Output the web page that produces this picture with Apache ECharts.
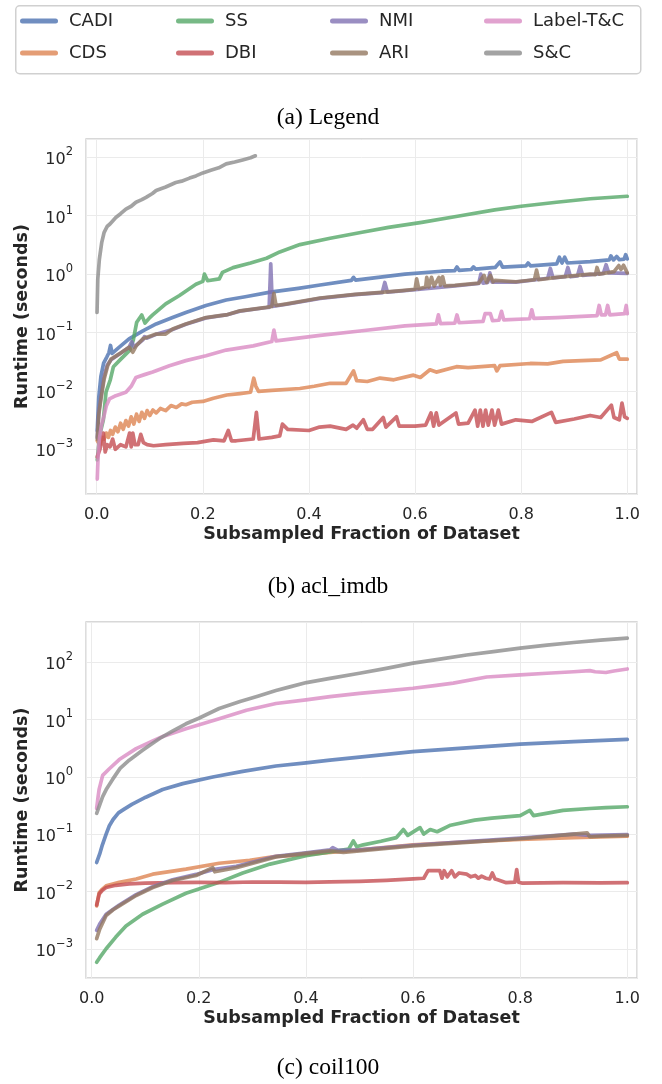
<!DOCTYPE html>
<html><head><meta charset="utf-8">
<script src="https://cdn.jsdelivr.net/npm/echarts@6/dist/echarts.min.js"></script>
<style>html,body{margin:0;padding:0;background:#fff}#c{width:662px;height:1084px}</style>
</head><body><div id="c"></div>
<script>
// ---------------- data ----------------
const names = ['CADI','CDS','SS','DBI','NMI','ARI','Label-T&C','S&C'];
const colors = ['#4C72B0','#DD8452','#55A868','#C44E52','#8172B3','#937860','#DA8BC3','#8C8C8C'];
const xTicks = [0.0, 0.2, 0.4, 0.6, 0.8, 1.0];
const yTickExps = [-3, -2, -1, 0, 1, 2];

// (b) acl_imdb  — [fraction, seconds]
const aclCADI = [[0.001,0.0021],[0.004,0.008],[0.008,0.018],[0.013,0.03],[0.019,0.038],[0.023,0.045],[0.026,0.06],[0.029,0.044],[0.0426,0.056],[0.061,0.078],[0.087,0.107],[0.112,0.14],[0.143,0.18],[0.168,0.22],[0.206,0.29],[0.244,0.36],[0.28,0.41],[0.327,0.49],[0.38,0.57],[0.421,0.65],[0.48,0.78],[0.484,0.88],[0.488,0.79],[0.581,1.0],[0.65,1.12],[0.675,1.15],[0.679,1.32],[0.683,1.16],[0.706,1.2],[0.71,1.33],[0.714,1.22],[0.751,1.3],[0.76,1.62],[0.765,1.32],[0.809,1.38],[0.813,1.55],[0.818,1.38],[0.867,1.5],[0.872,1.95],[0.877,1.55],[0.882,1.95],[0.887,1.55],[0.93,1.63],[0.966,1.75],[0.969,2.05],[0.974,1.75],[0.98,2.0],[0.985,1.76],[0.994,1.8],[0.997,2.15],[1.0,1.82]];
const aclCDS = [[0.001,0.0014],[0.006,0.0012],[0.01,0.0016],[0.014,0.0015],[0.018,0.0019],[0.022,0.0016],[0.026,0.0021],[0.03,0.0018],[0.035,0.0024],[0.04,0.002],[0.045,0.0028],[0.05,0.0022],[0.055,0.0031],[0.06,0.0025],[0.065,0.0036],[0.07,0.0027],[0.075,0.004],[0.08,0.003],[0.085,0.0043],[0.09,0.0034],[0.095,0.0046],[0.1,0.0038],[0.106,0.0047],[0.112,0.0042],[0.12,0.005],[0.13,0.0046],[0.14,0.0056],[0.15,0.0052],[0.16,0.006],[0.168,0.0058],[0.18,0.0064],[0.2,0.0066],[0.22,0.0075],[0.245,0.0085],[0.27,0.009],[0.29,0.0095],[0.296,0.0165],[0.3,0.012],[0.305,0.0098],[0.33,0.0102],[0.383,0.011],[0.41,0.012],[0.44,0.0135],[0.47,0.0135],[0.484,0.022],[0.49,0.015],[0.51,0.0145],[0.534,0.0166],[0.56,0.0155],[0.597,0.0186],[0.61,0.017],[0.628,0.023],[0.64,0.021],[0.678,0.026],[0.7,0.025],[0.75,0.027],[0.754,0.022],[0.76,0.027],[0.817,0.0295],[0.85,0.029],[0.879,0.032],[0.95,0.034],[0.98,0.045],[0.985,0.035],[1.0,0.035]];
const aclSS = [[0.001,0.00066],[0.006,0.0018],[0.0125,0.0032],[0.0175,0.0095],[0.0256,0.0155],[0.0315,0.026],[0.044,0.034],[0.0625,0.05],[0.0689,0.074],[0.0754,0.15],[0.0848,0.2],[0.088,0.21],[0.091,0.145],[0.1,0.18],[0.1055,0.2],[0.13,0.31],[0.156,0.43],[0.187,0.67],[0.2,0.75],[0.203,1.0],[0.209,0.77],[0.231,0.83],[0.237,1.07],[0.257,1.29],[0.29,1.55],[0.32,1.87],[0.345,2.4],[0.383,3.2],[0.44,4.1],[0.5,5.2],[0.55,6.3],[0.6125,7.7],[0.68,9.8],[0.75,12.6],[0.8,14.5],[0.8665,17],[0.93,19.5],[1.0,21.5]];
const aclDBI = [[0.001,0.00074],[0.006,0.001],[0.0125,0.0019],[0.016,0.0009],[0.02,0.0012],[0.025,0.0011],[0.03,0.0015],[0.035,0.001],[0.045,0.0012],[0.055,0.0011],[0.062,0.0019],[0.065,0.0011],[0.068,0.0019],[0.072,0.0012],[0.078,0.0012],[0.083,0.0018],[0.088,0.0013],[0.095,0.0012],[0.107,0.00115],[0.13,0.0012],[0.163,0.00126],[0.19,0.0013],[0.22,0.00145],[0.24,0.0014],[0.248,0.0021],[0.254,0.0014],[0.263,0.0014],[0.295,0.0015],[0.301,0.0043],[0.306,0.0015],[0.33,0.0016],[0.345,0.0017],[0.35,0.0027],[0.36,0.0022],[0.4,0.0021],[0.42,0.0024],[0.44,0.0025],[0.47,0.0022],[0.483,0.0026],[0.49,0.0023],[0.5025,0.0032],[0.51,0.0022],[0.52,0.0022],[0.54,0.0035],[0.545,0.0024],[0.565,0.0036],[0.57,0.0025],[0.6,0.0025],[0.62,0.0026],[0.63,0.0042],[0.635,0.0025],[0.64,0.0042],[0.645,0.0026],[0.677,0.0042],[0.682,0.0027],[0.7,0.0028],[0.713,0.0047],[0.718,0.0025],[0.723,0.0047],[0.728,0.0025],[0.733,0.0047],[0.738,0.0026],[0.745,0.0047],[0.75,0.0026],[0.757,0.0047],[0.763,0.0027],[0.79,0.0032],[0.82,0.003],[0.857,0.0043],[0.865,0.0029],[0.9,0.0033],[0.93,0.0038],[0.95,0.0035],[0.97,0.0057],[0.975,0.0035],[0.985,0.0032],[0.99,0.0062],[0.995,0.0036],[1.0,0.0034]];
const aclNMI = [[0.001,0.0016],[0.004,0.0045],[0.008,0.008],[0.014,0.018],[0.02,0.028],[0.027,0.034],[0.0426,0.043],[0.061,0.056],[0.066,0.07],[0.07,0.056],[0.087,0.075],[0.09,0.085],[0.095,0.08],[0.112,0.093],[0.143,0.113],[0.168,0.138],[0.206,0.178],[0.244,0.2],[0.27,0.232],[0.32,0.268],[0.325,0.27],[0.328,1.5],[0.331,0.28],[0.358,0.305],[0.421,0.385],[0.487,0.445],[0.538,0.48],[0.543,0.72],[0.548,0.49],[0.6,0.54],[0.675,0.63],[0.72,0.69],[0.724,1.0],[0.728,0.7],[0.737,0.72],[0.741,1.05],[0.745,0.73],[0.79,0.73],[0.85,0.85],[0.855,1.25],[0.86,0.86],[0.883,0.9],[0.888,1.3],[0.893,0.9],[0.906,0.93],[0.911,1.35],[0.916,0.95],[0.955,1.03],[0.96,1.45],[0.965,1.05],[1.0,1.03]];
const aclARI = [[0.001,0.0015],[0.004,0.004],[0.008,0.0073],[0.014,0.016],[0.0207,0.027],[0.027,0.035],[0.0426,0.043],[0.061,0.056],[0.068,0.046],[0.075,0.06],[0.087,0.078],[0.112,0.094],[0.13,0.094],[0.143,0.115],[0.168,0.14],[0.206,0.18],[0.232,0.195],[0.244,0.2],[0.27,0.235],[0.32,0.27],[0.33,0.28],[0.334,0.47],[0.338,0.29],[0.358,0.31],[0.421,0.39],[0.487,0.45],[0.53,0.48],[0.575,0.52],[0.6,0.55],[0.603,0.83],[0.607,0.56],[0.62,0.6],[0.622,0.88],[0.626,0.6],[0.631,0.88],[0.636,0.62],[0.645,0.88],[0.648,0.65],[0.652,0.9],[0.656,0.63],[0.675,0.64],[0.72,0.7],[0.73,0.95],[0.735,0.72],[0.742,0.95],[0.747,0.74],[0.751,0.78],[0.79,0.74],[0.825,0.8],[0.829,1.17],[0.833,0.8],[0.867,0.88],[0.93,1.0],[0.94,0.98],[0.943,1.3],[0.947,1.0],[0.975,1.1],[0.984,1.4],[0.988,1.2],[0.993,1.42],[1.0,1.05]];
const aclLTC = [[0.001,0.00031],[0.003,0.0009],[0.005,0.0015],[0.009,0.0026],[0.014,0.0038],[0.018,0.0055],[0.024,0.0073],[0.036,0.0083],[0.055,0.0095],[0.065,0.012],[0.074,0.017],[0.09,0.019],[0.1055,0.021],[0.137,0.027],[0.168,0.033],[0.206,0.04],[0.244,0.05],[0.295,0.059],[0.33,0.07],[0.334,0.11],[0.338,0.072],[0.421,0.089],[0.496,0.106],[0.581,0.13],[0.64,0.14],[0.644,0.2],[0.648,0.142],[0.675,0.145],[0.679,0.2],[0.683,0.147],[0.728,0.155],[0.732,0.21],[0.742,0.21],[0.746,0.16],[0.758,0.162],[0.763,0.23],[0.767,0.165],[0.816,0.172],[0.82,0.245],[0.824,0.174],[0.867,0.18],[0.943,0.195],[0.947,0.29],[0.951,0.2],[0.959,0.2],[0.963,0.29],[0.967,0.2],[0.995,0.21],[0.998,0.29],[1.0,0.21]];
const aclSC = [[0.0006,0.22],[0.002,0.82],[0.005,1.8],[0.0095,3.5],[0.014,5.2],[0.02,6.6],[0.025,7.2],[0.036,9.3],[0.045,10.8],[0.055,13],[0.065,14.5],[0.074,17],[0.085,18.8],[0.093,20.6],[0.105,24],[0.112,27],[0.13,31],[0.149,37],[0.16,39],[0.175,44],[0.187,48],[0.2,54],[0.215,60],[0.23,66],[0.244,77],[0.26,83],[0.275,90],[0.29,98],[0.299,106]];

// (c) coil100 — [fraction, seconds]
const coilCADI = [[0.0093,0.032],[0.015,0.045],[0.02,0.065],[0.027,0.1],[0.033,0.14],[0.04,0.18],[0.05,0.235],[0.06,0.27],[0.075,0.33],[0.101,0.44],[0.1325,0.6],[0.17,0.76],[0.226,0.99],[0.282,1.24],[0.344,1.54],[0.4,1.75],[0.445,1.95],[0.5,2.2],[0.6,2.75],[0.7,3.2],[0.8,3.7],[0.9,4.1],[1.0,4.5]];
const coilCDS = [[0.0093,0.0056],[0.014,0.0095],[0.02,0.011],[0.027,0.0125],[0.0515,0.0144],[0.083,0.0165],[0.114,0.02],[0.176,0.0245],[0.238,0.031],[0.295,0.035],[0.344,0.0408],[0.4,0.044],[0.445,0.048],[0.5,0.053],[0.6,0.065],[0.7,0.073],[0.8,0.081],[0.9,0.087],[1.0,0.092]];
const coilSS = [[0.0093,0.00058],[0.015,0.0007],[0.027,0.001],[0.045,0.0016],[0.064,0.0025],[0.095,0.004],[0.1325,0.006],[0.176,0.0093],[0.238,0.0144],[0.282,0.021],[0.333,0.03],[0.4,0.042],[0.445,0.049],[0.48,0.055],[0.4885,0.076],[0.495,0.06],[0.507,0.065],[0.54,0.075],[0.569,0.087],[0.582,0.12],[0.59,0.095],[0.613,0.13],[0.62,0.1],[0.632,0.12],[0.645,0.11],[0.67,0.143],[0.715,0.175],[0.747,0.19],[0.8,0.21],[0.818,0.26],[0.825,0.21],[0.88,0.26],[0.93,0.28],[0.96,0.29],[1.0,0.3]];
const coilDBI = [[0.0093,0.0058],[0.014,0.009],[0.02,0.0105],[0.027,0.0117],[0.045,0.0128],[0.07,0.0135],[0.1,0.014],[0.15,0.0143],[0.2,0.0144],[0.25,0.0143],[0.3,0.0146],[0.35,0.0145],[0.4,0.0144],[0.445,0.0147],[0.5,0.015],[0.55,0.0156],[0.6,0.0166],[0.62,0.017],[0.628,0.023],[0.64,0.023],[0.65,0.023],[0.654,0.017],[0.658,0.023],[0.664,0.018],[0.672,0.023],[0.678,0.018],[0.686,0.021],[0.7,0.02],[0.708,0.018],[0.716,0.019],[0.722,0.017],[0.728,0.0185],[0.736,0.017],[0.743,0.0165],[0.748,0.021],[0.753,0.0165],[0.758,0.016],[0.774,0.0142],[0.79,0.0145],[0.7935,0.024],[0.797,0.0145],[0.803,0.014],[0.88,0.0142],[0.95,0.0141],[1.0,0.0142]];
const coilNMI = [[0.0093,0.0021],[0.015,0.0027],[0.027,0.004],[0.0515,0.0058],[0.083,0.0088],[0.114,0.0121],[0.151,0.016],[0.195,0.0198],[0.226,0.024],[0.27,0.0275],[0.344,0.041],[0.4,0.047],[0.445,0.053],[0.45,0.058],[0.46,0.052],[0.5,0.053],[0.6,0.064],[0.7,0.074],[0.8,0.085],[0.9,0.1],[0.93,0.095],[1.0,0.098]];
const coilARI = [[0.0093,0.0015],[0.015,0.0022],[0.027,0.0038],[0.04,0.0048],[0.0515,0.0056],[0.083,0.0085],[0.114,0.0117],[0.151,0.0155],[0.195,0.019],[0.226,0.026],[0.23,0.022],[0.27,0.026],[0.344,0.04],[0.4,0.046],[0.445,0.051],[0.47,0.048],[0.5,0.051],[0.6,0.062],[0.7,0.072],[0.8,0.083],[0.9,0.1],[0.925,0.105],[0.93,0.09],[0.95,0.092],[1.0,0.095]];
const coilLTC = [[0.0093,0.28],[0.012,0.45],[0.014,0.61],[0.0205,1.06],[0.033,1.38],[0.0515,2.0],[0.083,3.1],[0.114,4.2],[0.134,5.1],[0.176,6.9],[0.238,10.3],[0.289,14.5],[0.344,19],[0.4,22],[0.445,25],[0.5,28.5],[0.55,31.5],[0.6,35],[0.64,39],[0.675,43],[0.7375,55],[0.8,60],[0.85,64],[0.9,68],[0.93,71],[0.94,68],[0.96,66],[0.975,70],[1.0,76]];
const coilSC = [[0.0093,0.23],[0.0205,0.45],[0.028,0.62],[0.039,0.9],[0.053,1.4],[0.07,1.95],[0.095,2.9],[0.1275,4.7],[0.15,6.2],[0.176,8.4],[0.2,10.5],[0.238,15.5],[0.277,20.5],[0.31,25.5],[0.344,32],[0.37,37],[0.401,44],[0.445,52],[0.5,64],[0.55,78],[0.6,96],[0.65,113],[0.7,133],[0.75,153],[0.8,176],[0.85,198],[0.9,220],[0.95,242],[1.0,263]];

const aclData = [aclCADI, aclCDS, aclSS, aclDBI, aclNMI, aclARI, aclLTC, aclSC];
const coilData = [coilCADI, coilCDS, coilSS, coilDBI, coilNMI, coilARI, coilLTC, coilSC];

// ---------------- chart ----------------
const TXT = '#262626';
const FONT = 'DejaVu Sans';
function logLabel(v){
  const e = Math.log10(v), r = Math.round(e);
  if (Math.abs(e - r) > 0.01 || yTickExps.indexOf(r) < 0) return '';
  return '{b|10}{s|' + (r < 0 ? '\u2212' + (-r) : r) + '}';
}
function xLabel(v){
  for (const t of xTicks) if (Math.abs(v - t) < 1e-6) return t.toFixed(1);
  return '';
}
const grids = [
  {left: 86, top: 139, width: 551, height: 355},
  {left: 86, top: 622, width: 551, height: 356}
];
const xr = [[-0.0202, 1.0183], [-0.0106, 1.0181]];
const yr = [[Math.pow(10,-3.765), Math.pow(10,2.313)], [Math.pow(10,-3.51), Math.pow(10,2.70)]];

const option = {
  animation: false,
  backgroundColor: '#fff',
  textStyle: {fontFamily: FONT},
  grid: grids.map(g => Object.assign({show: true, borderColor: '#cccccc', borderWidth: 1.3, backgroundColor: '#fff', containLabel: false}, g)),
  xAxis: [0,1].map(i => ({
    type: 'value', gridIndex: i, min: xr[i][0], max: xr[i][1], splitNumber: 5,
    axisLine: {show: false}, axisTick: {show: false},
    splitLine: {show: true, lineStyle: {color: '#ebebeb', width: 1}},
    axisLabel: {formatter: xLabel, showMinLabel: false, showMaxLabel: false, color: TXT, fontSize: 16, fontFamily: FONT, margin: 13},
    name: 'Subsampled Fraction of Dataset', nameLocation: 'middle', nameGap: 31, nameMoveOverlap: false,
    nameTextStyle: {fontWeight: 'bold', fontSize: 17.5, color: TXT, fontFamily: FONT}
  })),
  yAxis: [0,1].map(i => ({
    type: 'log', logBase: 10, gridIndex: i, min: yr[i][0], max: yr[i][1],
    axisLine: {show: false}, axisTick: {show: false},
    splitLine: {show: true, lineStyle: {color: '#ebebeb', width: 1}},
    axisLabel: {formatter: logLabel, showMinLabel: false, showMaxLabel: false, margin: 13,
      rich: {
        b: {fontSize: 16, fontFamily: FONT, color: TXT, lineHeight: 22, verticalAlign: 'bottom'},
        s: {fontSize: 11.5, fontFamily: FONT, color: TXT, lineHeight: 14, verticalAlign: 'top'}
      }},
    name: 'Runtime (seconds)', nameLocation: 'middle', nameGap: 55, nameRotate: 90, nameMoveOverlap: false,
    nameTextStyle: {fontWeight: 'bold', fontSize: 17.5, color: TXT, fontFamily: FONT}
  })),
  legend: [0,1,2,3].map(c => ({
    orient: 'vertical', left: [20, 176, 330, 484][c], top: 12, padding: 0,
    itemGap: 14, itemWidth: 38, itemHeight: 5,
    icon: 'path://M2.5,0H35.5A2.5,2.5,0,0,1,35.5,5H2.5A2.5,2.5,0,0,1,2.5,0Z',
    itemStyle: {opacity: 0.8},
    textStyle: {fontSize: 18, fontFamily: FONT, color: TXT, lineHeight: 18, padding: [0,0,0,6]},
    selectedMode: false,
    data: [names[c*2], names[c*2+1]]
  })),
  graphic: [
    {type: 'rect', left: 15, top: 5, shape: {width: 625, height: 68, r: 4}, style: {fill: '#fff', stroke: '#d0d0d0', lineWidth: 1.5}, z: -1},
    {type: 'text', x: 328, y: 118, style: {text: '(a) Legend', font: '23.5px "Liberation Serif"', fill: '#000', textAlign: 'center', textVerticalAlign: 'middle'}},
    {type: 'text', x: 328, y: 587, style: {text: '(b) acl_imdb', font: '23.5px "Liberation Serif"', fill: '#000', textAlign: 'center', textVerticalAlign: 'middle'}},
    {type: 'text', x: 328, y: 1068, style: {text: '(c) coil100', font: '23.5px "Liberation Serif"', fill: '#000', textAlign: 'center', textVerticalAlign: 'middle'}}
  ],
  series: []
};
[aclData, coilData].forEach((set, gi) => {
  set.forEach((d, k) => {
    option.series.push({
      type: 'line', name: names[k], xAxisIndex: gi, yAxisIndex: gi, data: d,
      showSymbol: false, symbol: 'none', smooth: false,
      color: colors[k],
      lineStyle: {width: 3.7, color: colors[k], opacity: 0.8, join: 'round', cap: 'round'},
      itemStyle: {color: colors[k]},
      emphasis: {disabled: true}, z: 2
    });
  });
});
const chart = echarts.init(document.getElementById('c'), null, {renderer: 'canvas'});
chart.setOption(option);
</script>
</body></html>
